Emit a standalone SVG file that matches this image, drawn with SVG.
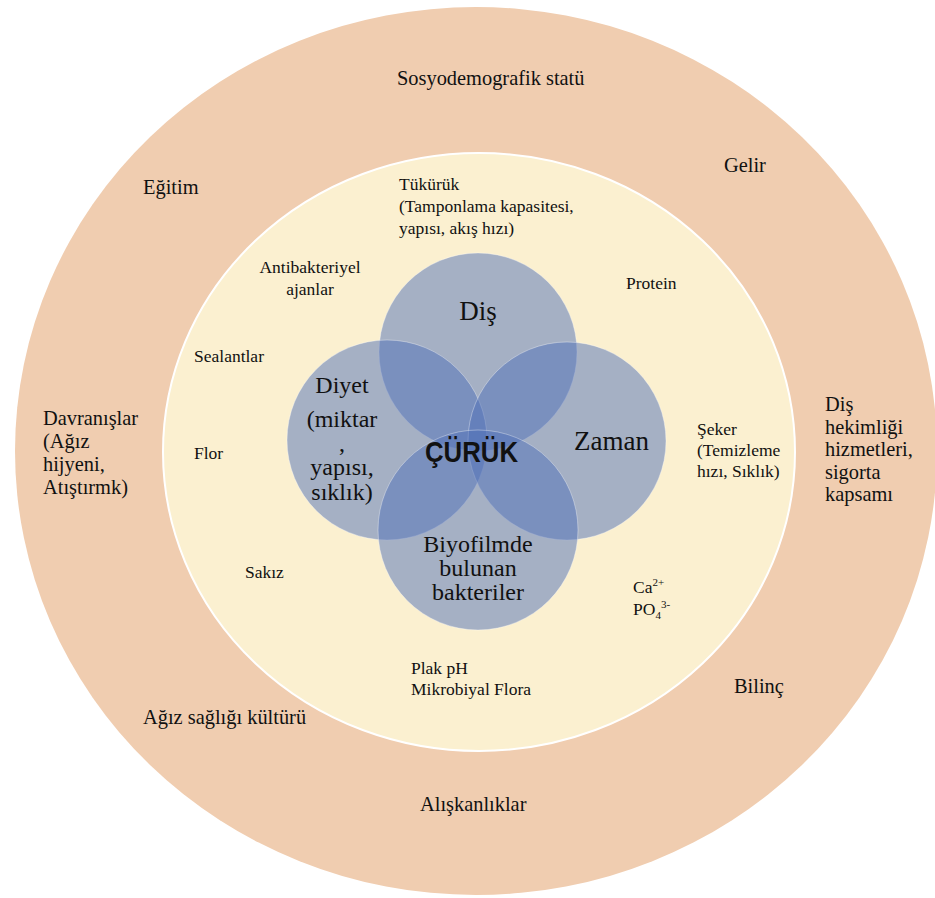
<svg xmlns="http://www.w3.org/2000/svg" width="935" height="898" viewBox="0 0 935 898">
<style>
.t{font-family:"Liberation Serif","Times New Roman",serif;fill:#111;}
.o{font-size:20.4px;}
.i{font-size:17.5px;}
.c{font-size:24px;}
.big{font-size:27px;}
.blue{fill:#5070B8;fill-opacity:0.5;stroke:#ffffff;stroke-opacity:0.35;stroke-width:1;}
</style>
<rect width="935" height="898" fill="#ffffff"/>
<g id="outer">
<ellipse cx="476" cy="451" rx="461" ry="444" fill="#F0CDB0"/>
<text class="t o" x="397" y="85">Sosyodemografik statü</text>
<text class="t o" x="724" y="172">Gelir</text>
<text class="t o" x="143" y="194">Eğitim</text>
<text class="t o" x="43" y="425">Davranışlar<tspan x="43" y="448">(Ağız</tspan><tspan x="43" y="471">hijyeni,</tspan><tspan x="43" y="494">Atıştırmk)</tspan></text>
<text class="t o" x="825" y="411">Diş<tspan x="825" y="433.5">hekimliği</tspan><tspan x="825" y="456">hizmetleri,</tspan><tspan x="825" y="478.5">sigorta</tspan><tspan x="825" y="501">kapsamı</tspan></text>
<text class="t o" x="734" y="693">Bilinç</text>
<text class="t o" x="143" y="724">Ağız sağlığı kültürü</text>
<text class="t o" x="420" y="811">Alışkanlıklar</text>
</g>
<g id="inner">
<ellipse cx="479" cy="452" rx="316" ry="299" fill="#FBF0D0" stroke="#ffffff" stroke-width="2"/>
<text class="t i" x="399" y="190">Tükürük<tspan x="399" y="212">(Tamponlama kapasitesi,</tspan><tspan x="399" y="234">yapısı, akış hızı)</tspan></text>
<text class="t i" text-anchor="middle" x="310" y="273">Antibakteriyel<tspan x="310" y="295">ajanlar</tspan></text>
<text class="t i" x="626" y="289">Protein</text>
<text class="t i" x="194" y="362">Sealantlar</text>
<text class="t i" x="194" y="459">Flor</text>
<text class="t i" x="697" y="435">Şeker<tspan x="697" y="456">(Temizleme</tspan><tspan x="697" y="477">hızı, Sıklık)</tspan></text>
<text class="t i" x="245" y="578">Sakız</text>
<text class="t i" x="633" y="593">Ca<tspan font-size="11" dy="-7">2+</tspan></text>
<text class="t i" x="633" y="615">PO<tspan font-size="11" dy="4">4</tspan><tspan font-size="11" dy="-11">3-</tspan></text>
<text class="t i" x="411" y="674">Plak pH<tspan x="411" y="695">Mikrobiyal Flora</tspan></text>
</g>
<g id="dis">
<circle class="blue" cx="478" cy="352" r="99"/>
<text class="t big" text-anchor="middle" x="478" y="320">Diş</text>
</g>
<g id="diyet">
<circle class="blue" cx="387" cy="440" r="100"/>
<text class="t c" text-anchor="middle" x="342" y="393">Diyet<tspan x="342" y="427">(miktar</tspan><tspan x="342" y="451">,</tspan><tspan x="342" y="475">yapısı,</tspan><tspan x="342" y="500">sıklık)</tspan></text>
</g>
<g id="zaman">
<circle class="blue" cx="567" cy="441" r="99"/>
<text class="t big" x="574" y="450">Zaman</text>
</g>
<g id="biyofilm">
<circle class="blue" cx="478" cy="530" r="100"/>
<text class="t c" text-anchor="middle" x="478" y="552">Biyofilmde<tspan x="478" y="576">bulunan</tspan><tspan x="478" y="600">bakteriler</tspan></text>
</g>
<g id="curuk">
<text x="425" y="462" font-family="'Liberation Sans',Arial,sans-serif" font-weight="bold" font-size="30" fill="#111" textLength="93" lengthAdjust="spacingAndGlyphs">ÇÜRÜK</text>
</g>
<g id="connectors"></g>
</svg>
